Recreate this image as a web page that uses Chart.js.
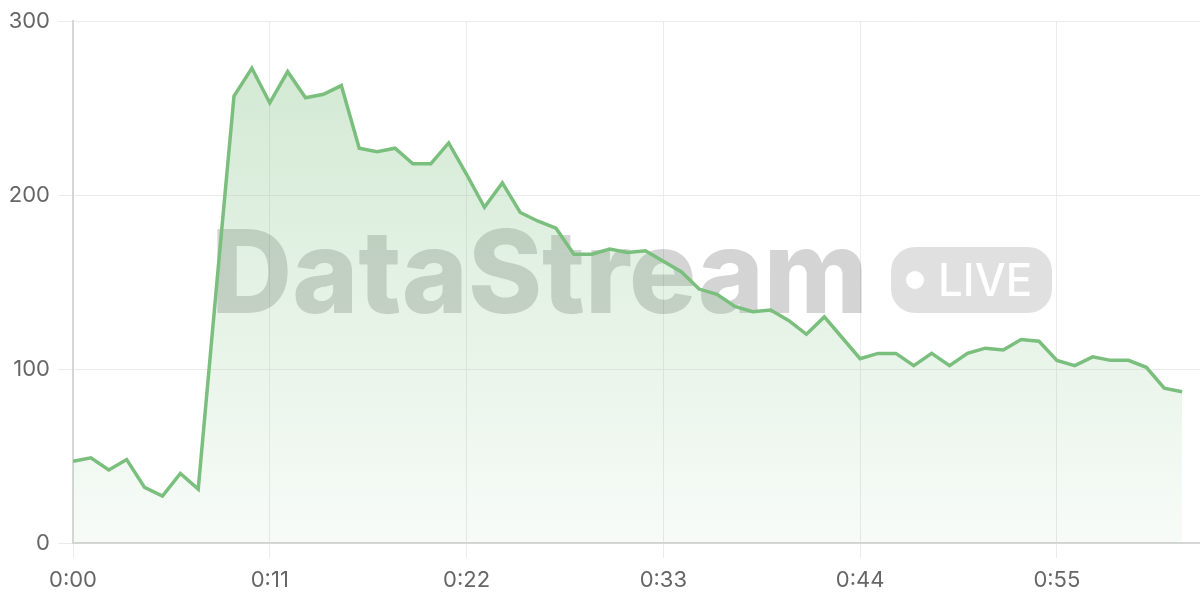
<!DOCTYPE html>
<html>
<head>
<meta charset="utf-8">
<script src="https://cdn.jsdelivr.net/npm/chart.js@4/dist/chart.umd.min.js"></script>
<style>
  html, body { margin: 0; padding: 0; background: #fff; }
  #wrap { width: 1200px; height: 600px; }
</style>
</head>
<body>
<div id="wrap"><canvas id="chart"></canvas></div>
<script>
// Samples, one per second (0:00 .. 1:02)
const values = [
  47, 49, 42, 48, 32, 27, 40, 31, 145, 257,
  273, 253, 271, 256, 258, 263, 227, 225, 227, 218,
  218, 230, 212, 193, 207, 190, 185, 181, 166, 166,
  169, 167, 168, 162, 156, 146, 143, 136, 133, 134,
  128, 120, 130, 118, 106, 109, 109, 102, 109, 102,
  109, 112, 111, 117, 116, 105, 102, 107, 105, 105,
  101, 89, 87
];
const xTicks = [0, 11, 22, 33, 44, 55];   // seconds
const xMax = 63;
const yTicks = [0, 100, 200, 300];

const lineColor = '#7bbf7e';

function fmtTime(s) {
  const m = Math.floor(s / 60);
  const r = s % 60;
  return m + ':' + String(r).padStart(2, '0');
}

// Watermark behind the line
const watermark = {
  id: 'watermark',
  beforeDatasetsDraw(chart) {
    const ctx = chart.ctx;
    ctx.save();
    // "DataStream"
    ctx.font = '800 115px Inter';
    ctx.textBaseline = 'alphabetic';
    ctx.textAlign = 'left';
    const w = ctx.measureText('DataStream').width;
    ctx.translate(211, 313);
    ctx.scale(657 / w, 1);
    ctx.fillStyle = 'rgba(0,0,0,0.17)';
    ctx.fillText('DataStream', 0, 0);
    ctx.restore();

    // LIVE pill
    ctx.save();
    ctx.fillStyle = 'rgba(0,0,0,0.12)';
    ctx.beginPath();
    ctx.roundRect(891, 247, 161, 66, 24);
    ctx.fill();
    ctx.fillStyle = '#fff';
    ctx.beginPath();
    ctx.arc(915, 280, 9, 0, Math.PI * 2);
    ctx.fill();
    ctx.font = '500 45px Inter';
    ctx.textBaseline = 'alphabetic';
    const lw = ctx.measureText('LIVE').width;
    ctx.translate(938, 296);
    ctx.scale(94 / lw, 1);
    ctx.fillText('LIVE', 0, 0);
    ctx.restore();
  }
};

Chart.defaults.font.family = 'Inter, "Liberation Sans", sans-serif';
Chart.defaults.font.size = 22;
Chart.defaults.color = '#666';

const ctx = document.getElementById('chart').getContext('2d');
new Chart(ctx, {
  type: 'line',
  data: {
    datasets: [{
      data: values.map((v, i) => ({ x: i, y: v })),
      borderColor: lineColor,
      borderWidth: 3.5,
      pointRadius: 0,
      tension: 0,
      fill: 'origin',
      backgroundColor: (c) => {
        const area = c.chart.chartArea;
        if (!area) return 'rgba(123,191,126,0.2)';
        const g = c.chart.ctx.createLinearGradient(0, area.top, 0, area.bottom);
        g.addColorStop(0, 'rgba(123,191,126,0.36)');
        g.addColorStop(1, 'rgba(123,191,126,0.06)');
        return g;
      }
    }]
  },
  options: {
    responsive: true,
    maintainAspectRatio: false,
    animation: false,
    layout: { padding: { top: 19, right: 0, bottom: 0, left: 0 } },
    plugins: {
      legend: { display: false },
      tooltip: { enabled: false }
    },
    scales: {
      x: {
        type: 'linear',
        min: 0,
        max: xMax,
        afterBuildTicks: (s) => { s.ticks = xTicks.map(v => ({ value: v })); },
        afterFit: (s) => { s.height = 57; },
        ticks: {
          padding: 9,
          maxRotation: 0,
          callback: (v) => fmtTime(v)
        },
        grid: { color: '#ebebeb', tickLength: 15 },
        border: { color: '#d6d6d6', width: 2 }
      },
      y: {
        min: 0,
        max: 300,
        afterBuildTicks: (s) => { s.ticks = yTicks.map(v => ({ value: v })); },
        afterFit: (s) => { s.width = 73; },
        ticks: { padding: 8 },
        grid: { color: '#ebebeb', tickLength: 15 },
        border: { color: '#d6d6d6', width: 2 }
      }
    }
  },
  plugins: [watermark]
});
</script>
</body>
</html>
